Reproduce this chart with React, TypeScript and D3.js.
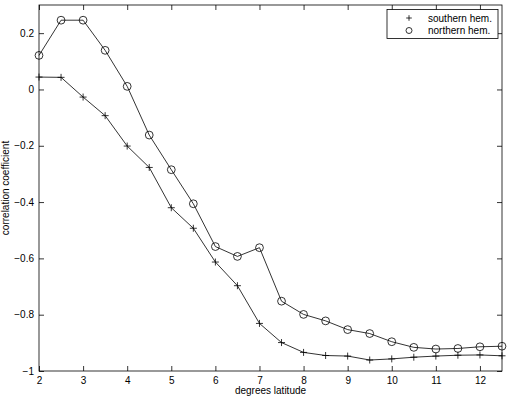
import { useRef, useEffect } from 'react';
import * as d3 from 'd3';

const W = 511;
const H = 401;
const MARGIN = { top: 5, right: 9, bottom: 30, left: 39 };

// latitude bins, 0.5 deg apart
const LATITUDES = [2, 2.5, 3, 3.5, 4, 4.5, 5, 5.5, 6, 6.5, 7, 7.5, 8, 8.5, 9, 9.5, 10, 10.5, 11, 11.5, 12, 12.5];

const SOUTHERN = [
  0.044, 0.043, -0.027, -0.093, -0.201, -0.277, -0.42, -0.493, -0.613, -0.697, -0.831,
  -0.899, -0.934, -0.945, -0.947, -0.961, -0.957, -0.951, -0.947, -0.944, -0.943, -0.946,
];

const NORTHERN = [
  0.121, 0.246, 0.246, 0.139, 0.011, -0.162, -0.285, -0.406, -0.558, -0.593, -0.562,
  -0.752, -0.799, -0.822, -0.853, -0.867, -0.896, -0.916, -0.922, -0.92, -0.914, -0.912,
];

const X_TICKS = [2, 3, 4, 5, 6, 7, 8, 9, 10, 11, 12];
const Y_TICKS = [-1, -0.8, -0.6, -0.4, -0.2, 0, 0.2];

const FONT = 'Liberation Sans, Arial, Helvetica, sans-serif';

export default function App() {
  const svgRef = useRef<SVGSVGElement | null>(null);

  useEffect(() => {
    if (!svgRef.current) return;
    const svg = d3.select(svgRef.current);
    svg.selectAll('*').remove();

    const x = d3.scaleLinear().domain([2, 12.5]).range([MARGIN.left, W - MARGIN.right]);
    const y = d3.scaleLinear().domain([-1, 0.3]).range([H - MARGIN.bottom, MARGIN.top]);
    const [x0, x1] = x.range();
    const [y0, y1] = y.range();

    svg.append('rect').attr('width', W).attr('height', H).attr('fill', '#fff');

    // axes box, matlab-style inward ticks on all sides
    const fmt = (v: number) => (v === 0 ? '0' : v === -1 ? '\u22121' : d3.format('.1f')(v));

    const tickStyle = (a: any) => {
      a.select('.domain').remove();
      a.selectAll('line').attr('stroke', '#000').attr('stroke-width', 0.8);
      a.selectAll('text').attr('font-family', FONT).attr('font-size', 10).attr('fill', '#000');
    };

    svg.append('g')
      .attr('transform', `translate(0,${y0})`)
      .call(d3.axisBottom(x).tickValues(X_TICKS).tickSize(-5).tickPadding(6).tickFormat(d3.format('d')))
      .call(tickStyle);
    svg.append('g')
      .attr('transform', `translate(0,${y1})`)
      .call(d3.axisTop(x).tickValues(X_TICKS).tickSize(-5).tickFormat(() => ''))
      .call(tickStyle);
    svg.append('g')
      .attr('transform', `translate(${x0},0)`)
      .call(d3.axisLeft(y).tickValues(Y_TICKS).tickSize(-5).tickPadding(5).tickFormat(fmt as any))
      .call(tickStyle);
    svg.append('g')
      .attr('transform', `translate(${x1},0)`)
      .call(d3.axisRight(y).tickValues(Y_TICKS).tickSize(-5).tickFormat(() => ''))
      .call(tickStyle);

    svg.append('rect')
      .attr('x', x0).attr('y', y1)
      .attr('width', x1 - x0).attr('height', y0 - y1)
      .attr('fill', 'none').attr('stroke', '#000').attr('stroke-width', 0.8);

    // series
    const line = d3.line<number>().x((_, i) => x(LATITUDES[i])).y((d) => y(d));
    [SOUTHERN, NORTHERN].forEach((s) => {
      svg.append('path').attr('d', line(s) ?? '').attr('fill', 'none').attr('stroke', '#000').attr('stroke-width', 0.8);
    });

    const plus = (g: any, cx: number, cy: number, r = 3.5) => {
      g.append('path')
        .attr('d', `M${cx - r},${cy}H${cx + r}M${cx},${cy - r}V${cy + r}`)
        .attr('stroke', '#000').attr('stroke-width', 0.8);
    };
    const circ = (g: any, cx: number, cy: number, r = 3.9) => {
      g.append('circle').attr('cx', cx).attr('cy', cy).attr('r', r)
        .attr('fill', 'none').attr('stroke', '#000').attr('stroke-width', 0.8);
    };

    const marks = svg.append('g');
    SOUTHERN.forEach((v, i) => plus(marks, x(LATITUDES[i]), y(v)));
    NORTHERN.forEach((v, i) => circ(marks, x(LATITUDES[i]), y(v)));

    // labels
    svg.append('text')
      .attr('x', (x0 + x1) / 2).attr('y', 394)
      .attr('text-anchor', 'middle')
      .attr('font-family', FONT).attr('font-size', 10)
      .text('degrees latitude');
    svg.append('text')
      .attr('transform', `translate(9,${(y0 + y1) / 2}) rotate(-90)`)
      .attr('text-anchor', 'middle')
      .attr('font-family', FONT).attr('font-size', 10)
      .text('correlation coefficient');

    // legend
    const lg = svg.append('g');
    lg.append('rect')
      .attr('x', 387).attr('y', 9.5).attr('width', 111).attr('height', 29)
      .attr('fill', '#fff').attr('stroke', '#000').attr('stroke-width', 0.8);
    plus(lg, 409, 18, 2.8);
    circ(lg, 409, 30.5, 3);
    lg.append('text').attr('x', 428).attr('y', 21.5)
      .attr('font-family', FONT).attr('font-size', 10).text('southern hem.');
    lg.append('text').attr('x', 428).attr('y', 33.5)
      .attr('font-family', FONT).attr('font-size', 10).text('northern hem.');
  }, []);

  return (
    <svg
      ref={svgRef}
      width={W}
      height={H}
      style={{ position: 'absolute', left: 0, top: 0, display: 'block' }}
    />
  );
}
